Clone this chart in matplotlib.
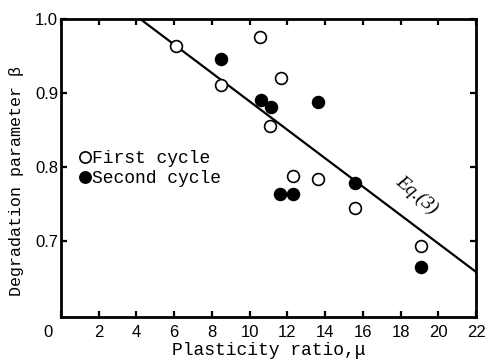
import matplotlib
matplotlib.use("Agg")
import matplotlib.pyplot as plt
import matplotlib.transforms as mtransforms

# Data
first_x = [6.1, 8.5, 10.55, 11.65, 11.1, 12.3, 13.6, 15.6, 19.1]
first_y = [0.964, 0.911, 0.975, 0.920, 0.855, 0.788, 0.783, 0.744, 0.693]
second_x = [8.5, 10.6, 11.15, 13.6, 15.6, 11.6, 12.3, 19.1]
second_y = [0.946, 0.891, 0.881, 0.888, 0.778, 0.764, 0.764, 0.664]
eq_x = [4.2, 22.0]
eq_y = [1.0, 0.658]
xticks = [0, 2, 4, 6, 8, 10, 12, 14, 16, 18, 20, 22]
yticks = [0.7, 0.8, 0.9, 1.0]
ytick_labels = ["0.7", "0.8", "0.9", "1.0"]

mono = "Liberation Mono"
sans = "Liberation Sans"

fig = plt.figure(figsize=(4.87, 3.63), dpi=100)
ax = fig.add_axes([61/487, 1-317/363, (476-61)/487, (317-19)/363])

ax.plot(eq_x, eq_y, color="black", lw=1.6, zorder=2)
ax.plot(first_x, first_y, "o", ms=8.5, mfc="white", mec="black", mew=1.2, zorder=3, label="First cycle")
ax.plot(second_x, second_y, "o", ms=8.5, mfc="black", mec="black", mew=1.2, zorder=3, label="Second cycle")

ax.text(18.85, 0.762, "Eq.(3)", rotation=-40, ha="center", va="center",
        fontsize=14, family="Liberation Serif", style="italic", zorder=2.5)

ax.set_xlim(0, 22)
ax.set_ylim(0.597, 1.0)
ax.set_xticks(xticks)
ax.set_xticklabels([str(v) for v in xticks], family=sans, fontsize=12)
ax.set_yticks(yticks)
ax.set_yticklabels(ytick_labels, family=sans, fontsize=12)
ax.tick_params(direction="in", length=4, width=1.6, top=True, right=True)
ax.tick_params(axis="x", pad=6)
ax.tick_params(axis="y", pad=2)

# shift origin label "0" left of the corner
lbl0 = ax.get_xticklabels()[0]
lbl0.set_transform(lbl0.get_transform() + mtransforms.ScaledTranslation(-13/100, 0, fig.dpi_scale_trans))

for s in ax.spines.values():
    s.set_linewidth(2)

ax.set_xlabel("Plasticity ratio,\u03bc", family=mono, fontsize=13, labelpad=1)
ax.set_ylabel("Degradation parameter \u03b2", family=mono, fontsize=12, labelpad=6)
ax.yaxis.set_label_coords(-0.088, 0.455)

ax.legend(loc="upper left", bbox_to_anchor=(0.045, 0.56), frameon=False,
          prop=dict(family=mono, size=13), handlelength=0.6, handletextpad=0.1,
          labelspacing=0.15, borderpad=0, borderaxespad=0, markerscale=0.95)

fig.savefig("out.png", dpi=100)
